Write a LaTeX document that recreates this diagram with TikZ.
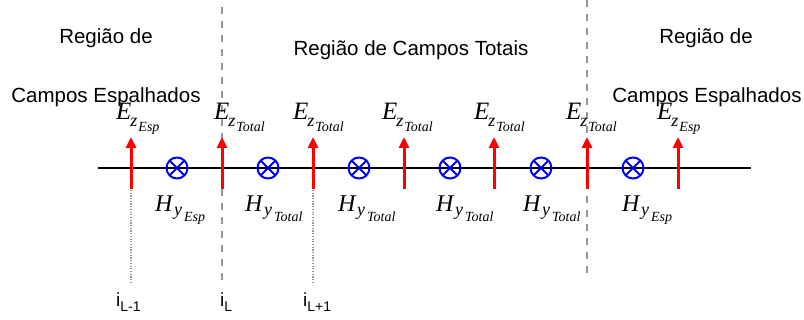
\documentclass[tikz,border=0pt]{standalone}
\usepackage{fontspec}
\setmainfont{Liberation Serif}
\newfontfamily\arialf{Liberation Sans}
\usetikzlibrary{arrows.meta}
\definecolor{fieldred}{RGB}{255,0,0}
\definecolor{fieldblue}{RGB}{0,0,255}
\definecolor{guidegray}{RGB}{150,150,150}
\newcommand{\Efld}[1]{\fontsize{25}{25}\selectfont\textit{E}\kern-1pt\raisebox{-7pt}{\fontsize{18}{18}\selectfont\textit{z}}\kern1pt\raisebox{-12pt}{\fontsize{14}{14}\selectfont\textit{#1}}}
\newcommand{\Hfld}[1]{\fontsize{24}{24}\selectfont\textit{H}\kern0.5pt\raisebox{-4pt}{\fontsize{18}{18}\selectfont\textit{y}}\kern2pt\raisebox{-10pt}{\fontsize{14}{14}\selectfont\textit{#1}}}
\newcommand{\idx}[1]{{\arialf\fontsize{19}{19}\selectfont i\raisebox{-5pt}{\fontsize{14}{14}\selectfont #1}}}
\tikzset{
  regiontext/.style={font=\arialf\fontsize{20.5}{22}\selectfont, anchor=base, inner sep=0pt},
  efield/.style={draw=fieldred, line width=3pt, -{Triangle[length=11pt,width=10pt]}},
  hfield/.style={circle, draw=fieldblue, line width=2pt, minimum size=21pt, inner sep=0pt,
    path picture={\draw[fieldblue, line width=2pt]
      (path picture bounding box.north west) -- (path picture bounding box.south east)
      (path picture bounding box.north east) -- (path picture bounding box.south west);}},
  lbl/.style={anchor=base west, inner sep=0pt},
  boundary/.style={draw=guidegray, line width=1.3pt, dash pattern=on 7.5pt off 6.5pt},
  gridline/.style={draw=guidegray, line width=1.2pt, dash pattern=on 1.2pt off 1.5pt},
  axisline/.style={draw=black, line width=2pt}
}
\begin{document}
\begin{tikzpicture}[x=1pt,y=-1pt]
\useasboundingbox (0,0) rectangle (804,320);
% region texts
\node[regiontext] (rl1) at (106,44) {Região de};
\node[regiontext] (rl2) at (106,103) {Campos Espalhados};
\node[regiontext] (rc) at (411,56) {Região de Campos Totais};
\node[regiontext] (rr1) at (706,44) {Região de};
\node[regiontext] (rr2) at (707,103) {Campos Espalhados};
% boundaries
\coordinate (bl1) at (222,7);
\coordinate (bl2) at (222,282);
\coordinate (br1) at (587,0);
\coordinate (br2) at (587,276);
\draw[boundary] (bl1) -- (bl2);
\draw[boundary] (br1) -- (br2);
% grid lines
\coordinate (g1a) at (131,190);
\coordinate (g1b) at (131,282);
\coordinate (g3a) at (313,190);
\coordinate (g3b) at (313,282);
\draw[gridline] (g1a) -- (g1b);
\draw[gridline] (g3a) -- (g3b);
% axis
\coordinate (ax1) at (98,168);
\coordinate (ax2) at (751,168);
\draw[axisline] (ax1) -- (ax2);
% E arrows
\foreach \n/\x in {1/131,2/222,3/313,4/404,5/494,6/587,7/678}{
  \coordinate (eb\n) at (\x,189);
  \coordinate (et\n) at (\x,137);
  \draw[efield] (eb\n) -- (et\n);
}
% H circles
\foreach \n/\x in {1/177,2/268,3/359,4/450,5/541,6/633}{
  \node[hfield] (h\n) at (\x,168) {};
}
% E labels
\node[lbl] (el1) at (116,120) {\Efld{Esp}};
\node[lbl] (el2) at (214,120) {\Efld{Total}};
\node[lbl] (el3) at (293,120) {\Efld{Total}};
\node[lbl] (el4) at (382,120) {\Efld{Total}};
\node[lbl] (el5) at (474,120) {\Efld{Total}};
\node[lbl] (el6) at (566,120) {\Efld{Total}};
\node[lbl] (el7) at (657,120) {\Efld{Esp}};
% H labels
\node[lbl] (hl1) at (155,212) {\Hfld{Esp}};
\node[lbl] (hl2) at (245,212) {\Hfld{Total}};
\node[lbl] (hl3) at (338,212) {\Hfld{Total}};
\node[lbl] (hl4) at (436,212) {\Hfld{Total}};
\node[lbl] (hl5) at (523,212) {\Hfld{Total}};
\node[lbl] (hl6) at (622,212) {\Hfld{Esp}};
% indices
\node[lbl] (i1) at (116,307) {\idx{L-1}};
\node[lbl] (i2) at (220,307) {\idx{L}};
\node[lbl] (i3) at (303,307) {\idx{L+1}};
\end{tikzpicture}
\end{document}
